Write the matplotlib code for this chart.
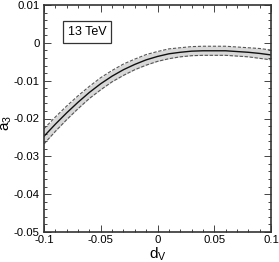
import matplotlib
matplotlib.use("Agg")
import matplotlib.pyplot as plt
from matplotlib.ticker import MultipleLocator, FuncFormatter

plt.rcParams['font.family'] = ['Liberation Sans', 'DejaVu Sans']
plt.rcParams['mathtext.fontset'] = 'custom'
plt.rcParams['mathtext.rm'] = 'Liberation Sans'
plt.rcParams['mathtext.it'] = 'Liberation Sans'

# values
d_v = [-0.1, -0.09, -0.08, -0.07, -0.06, -0.05, -0.04, -0.03, -0.02, -0.01, 0.0,
       0.01, 0.02, 0.03, 0.04, 0.05, 0.06, 0.07, 0.08, 0.09, 0.1]
a3_central = [-0.0247, -0.0215, -0.0185, -0.0157, -0.0131, -0.0108, -0.0088, -0.0071,
              -0.0057, -0.0045, -0.0036, -0.0029, -0.0025, -0.0022, -0.0021, -0.0021,
              -0.0021, -0.0023, -0.0025, -0.0028, -0.0032]
a3_halfwidth = [0.0020, 0.0019, 0.0018, 0.0017, 0.0016, 0.0016, 0.0015, 0.0015, 0.0014,
                0.0014, 0.0013, 0.0013, 0.0012, 0.0012, 0.0012, 0.0012, 0.0012, 0.0012,
                0.0012, 0.0013, 0.0013]
a3_upper = [c + h for c, h in zip(a3_central, a3_halfwidth)]
a3_lower = [c - h for c, h in zip(a3_central, a3_halfwidth)]

fig = plt.figure(figsize=(2.79, 2.62), dpi=100)
ax = fig.add_axes([44 / 279, 30 / 262, 227 / 279, 227 / 262])

ax.fill_between(d_v, a3_lower, a3_upper, color='#d8d8d8', lw=0)
ax.plot(d_v, a3_upper, color='#555555', lw=0.8, ls=(0, (3, 1.5)))
ax.plot(d_v, a3_lower, color='#555555', lw=0.8, ls=(0, (3, 1.5)))
ax.plot(d_v, a3_central, color='#111111', lw=1.0)

ax.set_xlim(-0.1, 0.1)
ax.set_ylim(-0.05, 0.01)

ax.xaxis.set_major_locator(MultipleLocator(0.05))
ax.xaxis.set_minor_locator(MultipleLocator(0.01))
ax.yaxis.set_major_locator(MultipleLocator(0.01))
ax.yaxis.set_minor_locator(MultipleLocator(0.002))
fmt = FuncFormatter(lambda v, p: '0' if abs(v) < 1e-9 else ('%g' % round(v, 4)))
ax.xaxis.set_major_formatter(fmt)
ax.yaxis.set_major_formatter(fmt)

ax.tick_params(which='both', direction='in', top=True, right=True, labelsize=8.2,
               color='#444444', width=0.7)
ax.tick_params(axis='x', which='major', length=5, pad=2.5)
ax.tick_params(axis='y', which='major', length=5, pad=3)
ax.tick_params(which='minor', length=2.5)
for s in ax.spines.values():
    s.set_linewidth(1.2)
    s.set_color('#333333')

ax.set_xlabel(r'$\mathrm{d_V}$', fontsize=11, labelpad=0)
ax.set_ylabel(r'$\mathrm{a_3}$', fontsize=11)
ax.yaxis.set_label_coords(-0.13, 0.48)

ax.text(0.189, 0.881, '13 TeV', transform=ax.transAxes, fontsize=9, ha='center', va='center',
        bbox=dict(boxstyle='square,pad=0.4', fc='white', ec='#333333', lw=0.9))

fig.savefig('out.png', dpi=100)
